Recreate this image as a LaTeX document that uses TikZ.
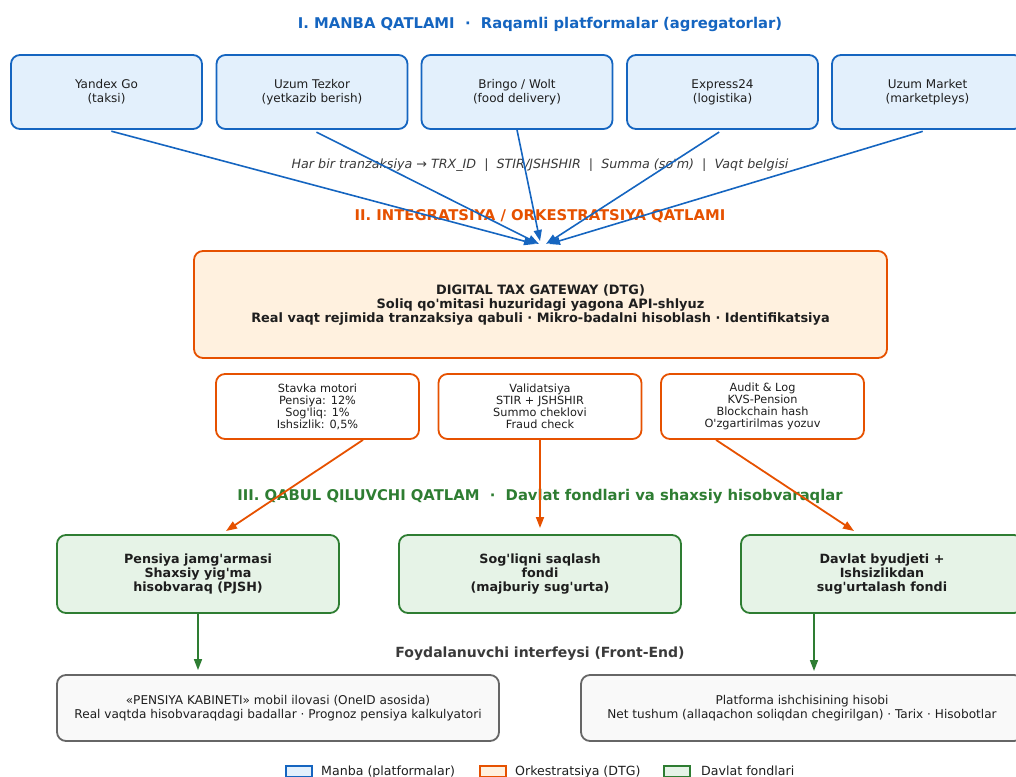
\documentclass[tikz,border=0pt]{standalone}
\usepackage{fontspec}
\setmainfont{DejaVu Sans}[Ligatures=TeXOff]
\usetikzlibrary{arrows.meta,calc}
\definecolor{cblue}{HTML}{1565C0}
\definecolor{fblue}{HTML}{E3F0FC}
\definecolor{corange}{HTML}{E65100}
\definecolor{forange}{HTML}{FFF1DF}
\definecolor{cgreen}{HTML}{2E7D32}
\definecolor{fgreen}{HTML}{E6F3E7}
\definecolor{cgray}{HTML}{666666}
\definecolor{fgray}{HTML}{F9F9F9}
\definecolor{ctext}{HTML}{1E1E1E}
\definecolor{csub}{HTML}{3A3A3A}
\tikzset{
  box/.style={rectangle, rounded corners=9pt, line width=1.8pt, align=center, text=ctext, inner sep=0pt},
  srcbox/.style={box, draw=cblue, fill=fblue, minimum width=191pt, minimum height=74pt, font=\fontsize{12}{14}\selectfont},
  dtgbox/.style={box, draw=corange, fill=forange, minimum width=693pt, minimum height=107pt, font=\bfseries\fontsize{12.9}{14}\selectfont},
  subbox/.style={box, draw=corange, fill=white, minimum width=203pt, minimum height=65pt, font=\fontsize{11.3}{12}\selectfont},
  fundbox/.style={box, draw=cgreen, fill=fgreen, minimum width=282pt, minimum height=78pt, font=\bfseries\fontsize{12.7}{14.4}\selectfont},
  uibox/.style={box, draw=cgray, fill=fgray, minimum width=442pt, minimum height=66pt, font=\fontsize{12.1}{14}\selectfont},
  title/.style={font=\bfseries\fontsize{14.8}{17}\selectfont},
  barrow/.style={draw=cblue, line width=1.6pt, -{Triangle[length=11pt,width=8pt]}},
  oarrow/.style={draw=corange, line width=1.8pt, -{Triangle[length=11pt,width=8pt]}},
  garrow/.style={draw=cgreen, line width=1.6pt, -{Triangle[length=11pt,width=8pt]}},
  legpatch/.style={rectangle, line width=1.4pt, minimum width=26pt, minimum height=11pt, inner sep=0pt},
  legtext/.style={anchor=base west, text=ctext, font=\fontsize{12.6}{14}\selectfont, inner sep=0pt}
}
\begin{document}
\begin{tikzpicture}[x=1pt,y=-1pt]
\useasboundingbox (0,0) rectangle (1016,776);
\clip (0,0) rectangle (1016,776);

% Layer titles
\node[title, text=cblue] (t1) at (540,24.5) {I. MANBA QATLAMI \ ·\ \ Raqamli platformalar (agregatorlar)};
\node[title, text=corange] (t2) at (540,216.5) {II. INTEGRATSIYA / ORKESTRATSIYA QATLAMI};
\node[title, text=cgreen] (t3) at (540,496.5) {III. QABUL QILUVCHI QATLAM \ ·\ \ Davlat fondlari va shaxsiy hisobvaraqlar};
\node[text=csub, font=\itshape\fontsize{12.7}{14}\selectfont] (note) at (540,165.5) {Har bir tranzaksiya → TRX\_ID \ |\ \ STIR/JSHSHIR \ |\ \ Summa (so'm) \ |\ \ Vaqt belgisi};
\node[text=csub, font=\bfseries\fontsize{14}{16}\selectfont] (fe) at (540,653.5) {Foydalanuvchi interfeysi (Front-End)};

% Source boxes
\node[srcbox] (s1) at (106.5,92) {Yandex Go\\(taksi)};
\node[srcbox] (s2) at (312,92) {Uzum Tezkor\\(yetkazib berish)};
\node[srcbox] (s3) at (517,92) {Bringo / Wolt\\(food delivery)};
\node[srcbox] (s4) at (722.5,92) {Express24\\(logistika)};
\node[srcbox] (s5) at (927.5,92) {Uzum Market\\(marketpleys)};

% DTG
\node[dtgbox] (dtg) at (540.5,304.5) {DIGITAL TAX GATEWAY (DTG)\\Soliq qo'mitasi huzuridagi yagona API-shlyuz\\Real vaqt rejimida tranzaksiya qabuli · Mikro-badalni hisoblash · Identifikatsiya};

\node[subbox] (m1) at (317.5,406.5) {Stavka motori\\Pensiya: 12\%\\Sog'liq: 1\%\\Ishsizlik: 0,5\%};
\node[subbox] (m2) at (540,406.5) {Validatsiya\\STIR + JSHSHIR\\Summo cheklovi\\Fraud check};
\node[subbox] (m3) at (762.5,406.5) {Audit \& Log\\KVS-Pension\\Blockchain hash\\O'zgartirilmas yozuv};

% Funds
\node[fundbox] (f1) at (198,574) {Pensiya jamg'armasi\\Shaxsiy yig'ma\\hisobvaraq (PJSH)};
\node[fundbox] (f2) at (540,574) {Sog'liqni saqlash\\fondi\\(majburiy sug'urta)};
\node[fundbox] (f3) at (882,574) {Davlat byudjeti +\\Ishsizlikdan\\sug'urtalash fondi};

% UI
\node[uibox] (u1) at (278,708) {«PENSIYA KABINETI» mobil ilovasi (OneID asosida)\\Real vaqtda hisobvaraqdagi badallar · Prognoz pensiya kalkulyatori};
\node[uibox] (u2) at (802,708) {Platforma ishchisining hisobi\\Net tushum (allaqachon soliqdan chegirilgan) · Tarix · Hisobotlar};

% Arrow endpoints
\coordinate (d1) at (535,244);
\coordinate (d2) at (539,244);
\coordinate (d3) at (540,241);
\coordinate (d4) at (546,244);
\coordinate (d5) at (549,244);
\draw[barrow, shorten <=5pt] (s1.south) -- (d1);
\draw[barrow, shorten <=5pt] (s2.south) -- (d2);
\draw[barrow] (s3.south) -- (d3);
\draw[barrow, shorten <=4pt] (s4.south) -- (d4);
\draw[barrow, shorten <=5pt] (s5.south) -- (d5);

\coordinate (o1s) at ($(m1.south)+(45.5,0)$);
\coordinate (o3s) at ($(m3.south)+(-46.5,0)$);
\coordinate (o1e) at (226,531);
\coordinate (o3e) at (854,531);
\draw[oarrow] (o1s) -- (o1e);
\draw[oarrow] (m2.south) -- (540,528);
\draw[oarrow] (o3s) -- (o3e);

\coordinate (g3s) at (814,613);
\coordinate (g3e) at (814,671);
\draw[garrow] (f1.south) -- ($(u1.north -| f1.south)+(0,-4)$);
\draw[garrow] (g3s) -- (g3e);

% Legend
\node[legpatch, draw=cblue, fill=fblue] (l1) at (299,771.5) {};
\node[legtext] (lt1) at (321,775) {Manba (platformalar)};
\node[legpatch, draw=corange, fill=forange] (l2) at (493,771.5) {};
\node[legtext] (lt2) at (515,775) {Orkestratsiya (DTG)};
\node[legpatch, draw=cgreen, fill=fgreen] (l3) at (677,771.5) {};
\node[legtext] (lt3) at (701,775) {Davlat fondlari};
\end{tikzpicture}
\end{document}
